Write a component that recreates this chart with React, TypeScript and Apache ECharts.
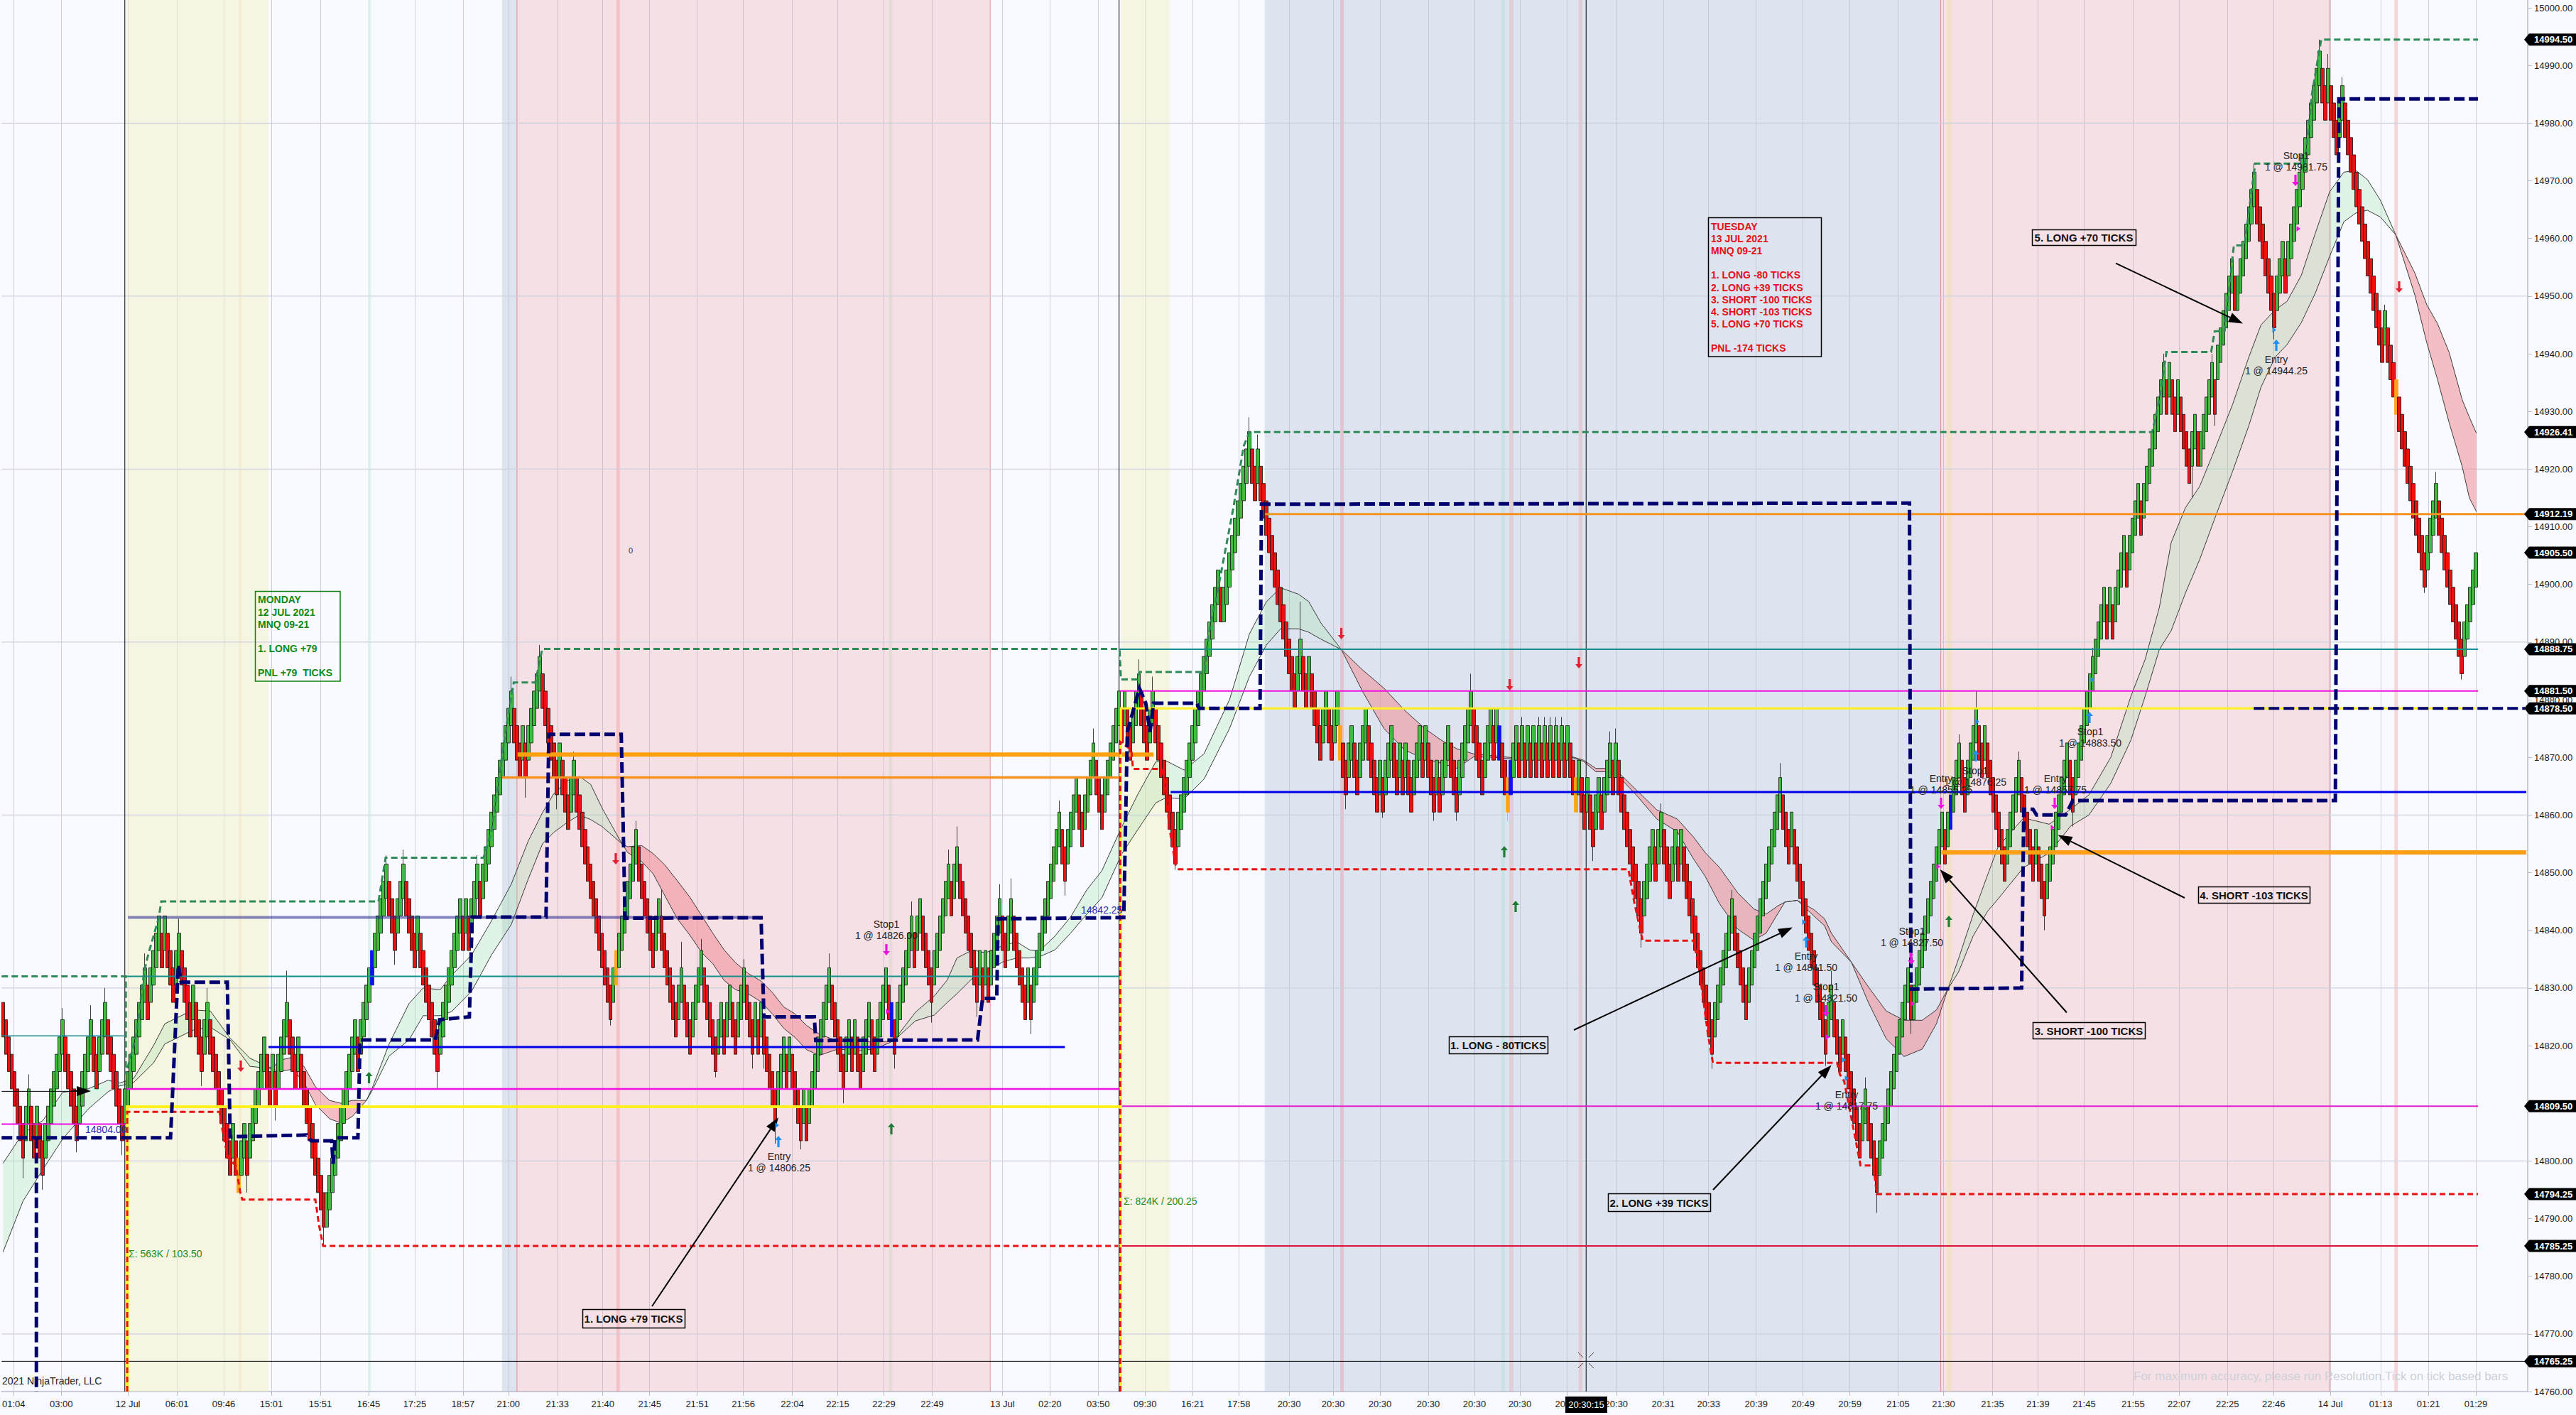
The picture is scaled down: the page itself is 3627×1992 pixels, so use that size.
import React, { useEffect, useRef } from "react";
import * as echarts from "echarts";

const W = 3627, H = 1992;
const FONT = '"Liberation Sans", Arial, sans-serif';
const BASE = 14000;

// Closing price of every brick (minus BASE).
const closes = [
821.5,818.5,815.5,812.5,809.5,806.5,803.5,800.5,809.5,812.5,
803.5,800.5,809.5,800.5,797.5,806.5,809.5,812.5,815.5,818.5,
821.5,824.5,815.5,812.5,809.5,806.5,803.5,812.5,815.5,818.5,
821.5,824.5,815.5,812.5,821.5,824.5,827.5,818.5,815.5,812.5,
809.5,806.5,803.5,812.5,815.5,818.5,821.5,824.5,827.5,830.5,
833.5,824.5,833.5,836.5,839.5,842.5,833.5,842.5,833.5,830.5,
827.5,836.5,839.5,830.5,827.5,824.5,821.5,830.5,821.5,818.5,
815.5,824.5,827.5,818.5,815.5,812.5,809.5,806.5,803.5,800.5,
797.5,806.5,797.5,794.5,803.5,806.5,797.5,806.5,809.5,812.5,
815.5,818.5,821.5,812.5,809.5,818.5,809.5,818.5,821.5,824.5,
827.5,818.5,815.5,812.5,821.5,812.5,809.5,806.5,803.5,800.5,
797.5,794.5,791.5,788.5,794.5,797.5,800.5,803.5,806.5,809.5,
812.5,815.5,818.5,821.5,824.5,815.5,824.5,827.5,830.5,833.5,
836.5,839.5,842.5,845.5,848.5,851.5,842.5,839.5,836.5,845.5,
848.5,851.5,842.5,839.5,836.5,833.5,842.5,833.5,830.5,827.5,
824.5,821.5,818.5,815.5,824.5,827.5,830.5,833.5,836.5,839.5,
842.5,845.5,836.5,845.5,836.5,845.5,848.5,851.5,842.5,851.5,
854.5,857.5,860.5,863.5,866.5,869.5,872.5,875.5,878.5,881.5,
872.5,869.5,866.5,875.5,866.5,875.5,878.5,881.5,884.5,887.5,
878.5,875.5,872.5,869.5,866.5,863.5,872.5,863.5,860.5,857.5,
866.5,869.5,860.5,857.5,854.5,851.5,848.5,845.5,842.5,839.5,
836.5,833.5,830.5,827.5,824.5,833.5,836.5,839.5,842.5,845.5,
848.5,851.5,854.5,857.5,848.5,845.5,842.5,839.5,836.5,833.5,
842.5,845.5,836.5,833.5,830.5,827.5,824.5,821.5,830.5,833.5,
824.5,821.5,818.5,827.5,830.5,833.5,836.5,827.5,824.5,821.5,
818.5,815.5,824.5,827.5,818.5,827.5,830.5,821.5,818.5,827.5,
830.5,833.5,824.5,821.5,818.5,827.5,818.5,827.5,818.5,815.5,
812.5,809.5,806.5,815.5,818.5,821.5,812.5,821.5,812.5,809.5,
806.5,803.5,812.5,803.5,812.5,815.5,818.5,821.5,824.5,827.5,
830.5,833.5,824.5,821.5,818.5,815.5,812.5,821.5,824.5,815.5,
824.5,815.5,812.5,821.5,824.5,827.5,818.5,815.5,824.5,827.5,
830.5,833.5,824.5,821.5,818.5,827.5,830.5,833.5,836.5,839.5,
842.5,833.5,842.5,845.5,836.5,833.5,830.5,827.5,836.5,839.5,
842.5,845.5,848.5,851.5,842.5,851.5,854.5,845.5,842.5,839.5,
836.5,833.5,830.5,827.5,836.5,827.5,836.5,827.5,836.5,839.5,
842.5,845.5,836.5,833.5,842.5,845.5,836.5,833.5,830.5,827.5,
824.5,833.5,824.5,833.5,836.5,839.5,842.5,845.5,848.5,851.5,
854.5,857.5,860.5,851.5,848.5,857.5,860.5,863.5,866.5,857.5,
854.5,863.5,866.5,869.5,872.5,863.5,860.5,857.5,866.5,869.5,
872.5,875.5,878.5,881.5,872.5,881.5,872.5,869.5,878.5,881.5,
884.5,875.5,872.5,869.5,878.5,881.5,872.5,869.5,866.5,863.5,
860.5,857.5,854.5,851.5,860.5,863.5,866.5,869.5,872.5,875.5,
878.5,881.5,884.5,887.5,890.5,893.5,896.5,899.5,902.5,893.5,
899.5,902.5,905.5,908.5,911.5,914.5,917.5,920.5,923.5,926.5,
917.5,914.5,923.5,914.5,911.5,908.5,905.5,902.5,899.5,896.5,
893.5,890.5,887.5,884.5,881.5,878.5,887.5,890.5,881.5,878.5,
887.5,878.5,875.5,872.5,869.5,878.5,881.5,872.5,869.5,878.5,
881.5,869.5,866.5,863.5,872.5,875.5,866.5,863.5,872.5,875.5,
878.5,869.5,866.5,863.5,860.5,869.5,860.5,869.5,872.5,875.5,
866.5,863.5,872.5,863.5,872.5,863.5,860.5,869.5,872.5,875.5,
866.5,875.5,866.5,863.5,860.5,869.5,860.5,869.5,872.5,875.5,
866.5,863.5,860.5,869.5,872.5,875.5,878.5,881.5,872.5,869.5,
866.5,863.5,872.5,875.5,878.5,869.5,878.5,869.5,866.5,863.5,
860.5,869.5,872.5,875.5,866.5,875.5,866.5,875.5,866.5,875.5,
866.5,875.5,866.5,875.5,866.5,875.5,866.5,875.5,866.5,875.5,
866.5,875.5,866.5,863.5,860.5,869.5,860.5,857.5,866.5,857.5,
854.5,863.5,866.5,857.5,866.5,869.5,872.5,863.5,872.5,863.5,
860.5,857.5,854.5,851.5,848.5,845.5,842.5,839.5,848.5,851.5,
854.5,857.5,848.5,857.5,860.5,851.5,848.5,845.5,854.5,857.5,
848.5,857.5,848.5,845.5,842.5,839.5,836.5,833.5,830.5,827.5,
824.5,821.5,818.5,827.5,830.5,833.5,836.5,839.5,842.5,845.5,
836.5,833.5,830.5,827.5,824.5,833.5,836.5,839.5,842.5,845.5,
848.5,851.5,854.5,857.5,860.5,863.5,866.5,857.5,854.5,851.5,
860.5,851.5,848.5,845.5,842.5,839.5,836.5,833.5,830.5,827.5,
824.5,821.5,818.5,827.5,830.5,821.5,818.5,815.5,824.5,815.5,
812.5,809.5,806.5,803.5,800.5,809.5,812.5,803.5,800.5,797.5,
794.5,803.5,806.5,809.5,812.5,815.5,818.5,821.5,824.5,827.5,
830.5,833.5,824.5,830.5,833.5,836.5,839.5,842.5,845.5,848.5,
851.5,854.5,857.5,860.5,851.5,860.5,863.5,866.5,869.5,872.5,
863.5,860.5,869.5,872.5,875.5,878.5,869.5,866.5,875.5,866.5,
863.5,860.5,857.5,854.5,851.5,848.5,857.5,860.5,863.5,866.5,
869.5,860.5,857.5,854.5,851.5,848.5,857.5,848.5,845.5,842.5,
851.5,854.5,857.5,860.5,863.5,866.5,869.5,872.5,863.5,860.5,
869.5,872.5,875.5,878.5,881.5,884.5,887.5,890.5,893.5,896.5,
899.5,890.5,899.5,890.5,899.5,902.5,905.5,908.5,899.5,908.5,
911.5,914.5,917.5,908.5,917.5,920.5,923.5,926.5,929.5,932.5,
935.5,938.5,929.5,938.5,929.5,926.5,935.5,926.5,923.5,920.5,
917.5,926.5,929.5,920.5,926.5,929.5,932.5,935.5,938.5,929.5,
941.5,944.5,947.5,950.5,953.5,956.5,947.5,953.5,956.5,959.5,
962.5,965.5,968.5,971.5,962.5,959.5,956.5,953.5,950.5,947.5,
944.5,953.5,956.5,959.5,950.5,959.5,962.5,965.5,968.5,971.5,
974.5,977.5,980.5,983.5,986.5,989.5,992.5,983.5,980.5,989.5,
980.5,977.5,974.5,983.5,986.5,977.5,974.5,971.5,968.5,965.5,
962.5,959.5,956.5,953.5,950.5,947.5,944.5,941.5,938.5,947.5,
938.5,935.5,932.5,929.5,926.5,923.5,920.5,917.5,914.5,911.5,
908.5,905.5,902.5,899.5,908.5,911.5,914.5,917.5,908.5,905.5,
902.5,899.5,896.5,893.5,890.5,887.5,884.5,893.5,896.5,899.5,
902.5,905.5,
];

const bodySize = 6;
const orangeBars = [83, 216, 471, 530, 554, 843];
const blueBars = [130, 313, 527, 531, 686];

// [bar, price] wick extremes
const wickHighs = [[9,815],[21,826.5],[31,827],[36,830],[50,836],[62,842],[72,830],[100,833],[135,853],[141,854],[167,853],[179,884],[189,889.5],[201,871],[223,859],[232,847],[239,838],[246,838.5],[261,835],[291,836],[320,845],[333,854],[336,858],[351,848],[355,849],[372,862.5],[384,875],[393,884],[400,887],[405,884],[439,929],[442,926],[457,897],[517,884.5],[535,877],[541,877],[543,877],[545,877],[547,877],[549,877],[566,874.5],[568,875],[584,862],[609,847],[626,869],[644,833],[656,814.5],[689,874],[695,881.5],[710,871],[736,889],[761,940],[778,940],[793,973],[816,994.5],[819,992],[824,988],[839,948.5],[857,919.5]];
const wickLows = [[7,797],[14,795],[26,801.5],[42,801],[70,813],[86,794.5],[96,807],[113,785.25],[138,834],[153,812.5],[184,863],[195,861],[214,823.5],[251,814.5],[264,816],[268,816],[272,803],[281,802],[296,810],[314,816],[327,824],[343,825],[362,822],[374,846],[413,850.5],[473,861],[486,859.5],[504,859],[512,859],[530,859],[560,852],[577,837],[602,816],[642,816.5],[660,791],[672,822],[719,840],[729,858],[771,915],[779,927.5],[800,942.5],[853,898.5],[866,883.5]];

// Moving averages (minus BASE), read at these bars
const maBars = [0,7,14,21,30,37,41,46,53,57,67,73,80,87,95,97,102,106,110,115,119,123,128,130,136,143,148,154,158,165,172,179,185,190,194,199,203,207,211,218,220,225,229,233,237.5,242,246,250,254,258,262.5,267,271,275,279,283,287.5,294,301,307,313.6,321.4,328,332.6,336,341.5,346,352,357,361.6,365,370.5,376,381.7,387,394,399.6,406,409.6,416,423,432,439,445,450,456.3,459.9,464.2,471.4,479,486.4,493.6,500.8,506.5,512,518,525,532.3,541,549.5,556.7,561,567.5,575.4,582.5,589.7,595.4,599.5,604.6,611,616.7,621,625,627.6,632,637.8,641.6,644,651,657,663.3,669.6,676,681,685,688.8,693.9,699,702.8,705.4,711.7,720.7,728.3,734.7,742.4,749.5,754.5,759.5,763.7,768.7,773.7,778.7,785.3,791,795.3,800.3,804.5,809.5,814.5,819.5,824.5,828.7,832.8,837.4,842.8,849.5,853.7,857.5,861.6,866.2,868.7,871.2];
const maFast = [799.6,804.8,807,811.9,812.5,814,813.5,814.3,820,823.8,826.2,826,821.3,817.8,816,815.5,815.9,813.6,809.8,807.3,806.6,807.7,810.5,812.6,820.3,827.3,830,829.7,832.2,835.7,841.6,848,855.5,860.4,863.7,866,866.7,865.3,861.2,855,853.5,851.9,849.8,846.1,842,839.1,836.2,834.2,831.3,829.7,829,827.6,825.5,823,821.4,819.3,818.3,819.4,819.1,819.4,820.8,825.8,828.6,831.4,835.2,836.6,836.1,837.3,838,836.6,836.4,839,842.3,847,850.3,857.9,863.5,869.2,869.4,867.8,870.6,880,891.4,897,899.4,898.3,897,893.3,888.7,881.3,875,871.3,869.7,869,868.1,870.1,870,869.7,870.2,870.5,869.3,867.5,867.5,863.4,859.3,857.1,852.4,849.4,844.6,840.2,838.3,839.5,842.8,844.9,845.2,842.5,840.8,838,834.5,827.5,821.2,818.1,819.4,823.8,829.8,835.1,842.7,849.6,854.6,856,859.5,858.4,861,863.5,870,880.6,887,896,907.3,913.3,917,923,931.2,939.4,945,947.6,949.1,953.6,961,968.1,971.5,971.8,970.2,966.6,960.6,950.2,941.9,935.5,928,920.4,915,912.6];
const maSlow = [784.2,793,798.5,803.8,809,812,813,813.6,817,820.3,822.7,823.2,821,816.4,816,817.4,818,816.4,812.9,810.5,810,810.5,810.5,812.2,818.2,821,825.2,825.2,825.9,829.4,835.7,841,848.9,855,857,858.8,860,859.2,858,855,854.5,854.7,853.3,851.4,848.6,845.7,842.6,839.5,836.6,834.4,832.5,831.2,829.2,826.7,825.5,823.5,822,820.8,820.8,820.6,820.8,824.3,825.3,827.5,829,831.7,832.6,834.5,835.2,835.2,835.4,836.6,839.5,842.8,845.6,853.2,857.4,862.1,863,862.8,866.2,875,884,889.5,892.3,892.3,891.7,890.5,888.7,885.1,882,878.2,875,873,871.5,870.6,870.3,869.9,870.3,870.6,869.5,868.1,868.1,864.3,860.9,859.3,856.2,853.5,850.9,846.5,843.7,842.8,844.2,844.9,845.2,843.6,842,839.5,834.5,830.2,826,824.4,824.4,826.2,829.8,832.8,839,843.3,845.5,847.1,850.9,853.4,858.1,860,865.5,873,880.6,888.7,892,898.5,904.3,911,919.6,927.5,934.2,939.4,941.6,945.4,950.6,956.9,962.9,964.4,964.9,963.7,960.6,954,948.5,945.2,940.2,932,929,926.2];

// Time-axis ticks: bar position and label
const tickBars = [3.75,20.5,44,61.25,77.75,94.5,111.75,128.75,145,162,178,195.25,211.25,227.75,244.5,260.75,278,294,310.25,327.25,352,368.75,385.75,402.25,419,435.25,453,468.5,485,502,518.25,534.25,550.75,568.25,584.75,600.75,617.5,634,650.5,667.5,683.5,700.75,716.75,733,750.25,766.5,783.5,799.75,819.75,837.5,854.25,871];
const tickLabels = ["01:04","03:00","12 Jul","06:01","09:46","15:01","15:51","16:45","17:25","18:57","21:00","21:33","21:40","21:45","21:51","21:56","22:04","22:15","22:29","22:49","13 Jul","02:20","03:50","09:30","16:21","17:58","20:30","20:30","20:30","20:30","20:30","20:30","20:30","20:30","20:31","20:33","20:39","20:49","20:59","21:05","21:30","21:35","21:39","21:45","21:55","22:07","22:25","22:46","14 Jul","01:13","01:21","01:29"];

const priceTags = [14994.5,14926.41,14912.19,14905.5,14888.75,14881.5,14878.5,14809.5,14794.25,14785.25,14765.25];
// Horizontal gridlines are only drawn every 30 points
const gridPrices = [14980,14950,14920,14890,14860,14830,14800,14770];

const barMin = -0.5, barMax = 889.25, yMin = 14760, yMax = 15001.36;

// Session shading: [from bar, to bar, colour]
const PINK = "rgba(235,120,130,0.2)", BLUE = "rgba(178,192,214,0.38)", YEL = "rgba(245,240,190,0.45)";
const bands = [
  [43.4,93.5,YEL],[175.75,181,BLUE],[181,347.75,PINK],[393.9,411,YEL],[444.4,682.5,BLUE],[682.5,819.5,PINK],
  [83,84,"rgba(245,200,140,0.18)"],[128.75,129.75,"rgba(150,225,170,0.18)"],[216,217.25,"rgba(240,120,120,0.28)"],
  [312,313.25,"rgba(150,200,150,0.16)"],[471,472.25,"rgba(230,120,130,0.28)"],[527.75,529,"rgba(130,220,190,0.22)"],
  [530.5,532,"rgba(235,130,130,0.22)"],[555,556.25,"rgba(235,130,130,0.25)"],[684.5,686.5,"rgba(240,225,140,0.3)"],[842.25,843.5,"rgba(240,120,120,0.28)"],
  [180.9,181.15,"rgba(210,80,80,0.6)"],[347.6,347.85,"rgba(210,80,80,0.5)"],[682.4,682.65,"rgba(210,80,80,0.6)"],[819.4,819.65,"rgba(210,80,80,0.6)"],
];

// Levels and order paths: [bar, price]
const navyPath = [[-0.5,14804],[59,14804],[61.75,14834],[62.75,14831],[79,14831],[80,14804.2],[107,14804.5],[108.5,14803.5],[115.75,14803.5],[116.25,14799.5],[117,14804],[125,14804],[125.75,14821],[152.25,14821],[153.75,14824.5],[164.25,14825],[165.25,14842.3],[191.25,14842.3],[192.25,14874],[217.75,14874],[219.1,14842.1],[267,14842.2],[268,14825],[285.75,14825],[286.25,14820.9],[343.25,14821],[345,14828.2],[350,14828.2],[350.5,14842],[393,14842.2],[394.75,14842.2],[396,14874.4],[400.25,14882],[402.5,14879.4],[404,14874.4],[405.25,14879.4],[420.5,14879.4],[421.25,14878.5],[442.75,14878.5],[443.25,14913.9],[671.5,14914.1],[672,14829.8],[711,14830],[711.75,14861],[715,14861],[716.25,14860],[726.5,14860],[729,14862.5],[821.5,14862.5],[822.75,14984.2],[871.75,14984.2]];
const navySpur = [[11.75,14804],[11.75,14760]];
const navyClose = [[792.75,14878.5],[888.25,14878.5]];
const greenDash = [[-0.5,14832],[43.25,14832],[43.25,14815],[47,14822],[49.75,14833],[51.25,14836],[54.75,14842],[55.75,14845],[132.25,14845],[134.75,14852.6],[169.25,14852.6],[172,14857],[174.5,14866],[177.5,14876],[179.9,14883],[187.5,14883],[189.9,14888.8],[393.25,14888.8],[393.75,14883.5],[399.5,14883.5],[400.25,14884.8],[423.25,14884.8],[424.5,14891],[428.25,14900],[433.25,14913],[437,14924],[439,14926.41],[757,14926.41],[759.5,14932],[762,14940.3],[777.75,14940.3],[779,14943.9],[782.5,14944],[785.75,14958.8],[789.5,14958.8],[793.25,14973],[810.75,14973],[813.25,14985],[816.5,14994.5],[871.75,14994.5]];
const redDashA = [[43.75,14760],[43.75,14808.5],[76.25,14808.5],[77.75,14804],[79.25,14800.5],[82,14799.2],[83.5,14794.7],[84.25,14793.3],[110,14793.3],[111.25,14789],[112.75,14785.25],[392.75,14785.25]];
const redDashB = [[393.5,14760],[393.5,14872.7],[397.4,14871.3],[398,14868],[408,14868],[409.5,14865],[410.75,14858],[413,14851.3],[414.1,14850.6],[572.5,14850.6],[574.5,14845],[577.5,14838.2],[595.5,14838.2],[597.5,14833],[600.5,14822],[602.25,14817],[646,14817],[647,14815],[648.5,14813.8],[652,14805],[654.25,14799.2],[658.75,14799.2],[660,14794.25],[871.75,14794.25]];
const yellowA = [[43.75,14760],[43.75,14809.4],[393.25,14809.4]];
const yellowB = [[393.75,14760],[393.75,14878.5],[870.75,14878.5]];
// [from bar, to bar, price, colour, width]
const levels = [
  [-0.5,43.25,14821.7,"#148F8F",1.5],[43.5,393.5,14832,"#148F8F",2],[393.25,871.75,14888.75,"#148F8F",2],
  [-0.5,43.25,14806.4,"#F010E0",2],[43.5,393.5,14812.5,"#F010E0",2.5],[393.25,871.75,14881.5,"#F010E0",2],[394,871.75,14809.5,"#E020D0",2],
  [93.5,374,14819.75,"#0000E6",3],[411.25,888.75,14864,"#0000E6",3],
  [181.25,405.25,14870.5,"#FFA010",6],[175.75,393.25,14866.5,"#F59222",3.5],[444.5,889.25,14912.19,"#F59222",3],[682.75,888.75,14853.5,"#FFA010",6],
  [44,266.25,14842.25,"rgba(40,40,140,0.55)",4],[393.25,871.75,14785.25,"#DC143C",2],
  [-0.5,30.5,14812.07,"#000000",1],[barMin,barMax,14765.25,"#000000",1],
];
// Black vertical separators and crosshair: bars
const verticals = [42.9, 393.1, 557.6];

const mondayLines: [string, number][] = [["MONDAY",844],["12 JUL 2021",862],["MNQ 09-21",879],["1. LONG +79",913],["PNL +79  TICKS",947]];
const tuesdayLines: [string, number][] = [["TUESDAY",319],["13 JUL 2021",336],["MNQ 09-21",353],["1. LONG -80 TICKS",387],["2. LONG +39 TICKS",404.5],["3. SHORT -100 TICKS",421.5],["4. SHORT -103 TICKS",438.5],["5. LONG +70 TICKS",456],["PNL -174 TICKS",490]];
const callouts: [string, number, number, number, number][] = [
  ["1. LONG +79 TICKS",820,1843,964,1869],["1. LONG - 80TICKS",2040,1459,2179,1483],["2. LONG +39 TICKS",2264,1680,2408,1705],
  ["3. SHORT -100 TICKS",2862,1439,3020,1462],["4. SHORT -103 TICKS",3095,1248,3252,1271],["5. LONG +70 TICKS",2861,323,3007,345],
];
const arrows = [[918,1839,1096,1573],[2216,1450,2524,1305.6],[2412,1675,2578.6,1499.5],[2910,1425.5,2731.6,1224],[3076,1264,2897.5,1175.5],[2979,370.6,3158,455.4]];
const fills: [string, string, number, number][] = [
  ["Entry","1 @ 14806.25",1097,1628],["Stop1","1 @ 14826.00",1248,1301],["Entry","1 @ 14841.50",2543,1346],["Stop1","1 @ 14821.50",2571,1389],
  ["Entry","1 @ 14817.75",2600,1541],["Stop1","1 @ 14827.50",2692,1311],["Entry","1 @ 14855.25",2733,1096],["Stop1","1 @ 14876.25",2781,1085],
  ["Entry","1 @ 14857.75",2894,1096],["Stop1","1 @ 14883.50",2943,1030],["Entry","1 @ 14944.25",3205,506],["Stop1","1 @ 14981.75",3233,219],
];
const upMarks: [number, number, string][] = [[519.5,1517,"#1E7D32"],[1255,1589,"#1E7D32"],[2118,1199,"#1E7D32"],[2134,1276,"#1E7D32"],[2744,1297,"#1E7D32"],[1096,1607,"#2090F0"],[2543,1326,"#2090F0"],[2782,1064,"#2090F0"],[2942,1010,"#2090F0"],[3205,486,"#2090F0"]];
const downMarks: [number, number, string][] = [[339,1501,"#E02030"],[867,1209,"#E02030"],[1888.6,892,"#E02030"],[2223,933,"#E02030"],[2125.7,964,"#E02030"],[3378,404,"#E02030"],[1248,1337,"#F010E0"],[2571,1423,"#F010E0"],[2691,1350,"#F010E0"],[2733,1131,"#F010E0"],[2893,1131,"#F010E0"],[3232,254,"#F010E0"]];
const dots: [number, number, string][] = [[2540,1298,"#2090F0"],[2596,1492,"#2090F0"],[2600,1518,"#2090F0"],[2784,1016,"#2090F0"],[2946,957,"#2090F0"],[1094,1584,"#2090F0"],[3202,464.5,"#2090F0"],[2729,1220,"#F010E0"],[2890,1165,"#F010E0"],[2693,1413,"#F010E0"],[2573,1460,"#F010E0"],[2691,1344,"#F010E0"],[1250,1424,"#F010E0"],[3236,322,"#F010E0"]];

function buildCandles() {
  const hi = new Map(wickHighs.map(([b, v]) => [b, BASE + v]));
  const lo = new Map(wickLows.map(([b, v]) => [b, BASE + v]));
  return closes.map((c, i) => {
    const close = BASE + c;
    const prev = i === 0 ? close + 3 : BASE + closes[i - 1];
    const up = close > prev;
    const open = up ? close - bodySize : close + bodySize;
    const top = Math.max(open, close), bottom = Math.min(open, close);
    const low = Math.min(bottom, lo.has(i) ? (lo.get(i) as number) : bottom);
    const high = Math.max(top, hi.has(i) ? (hi.get(i) as number) : top);
    const value = [i, open, close, low, high];
    const special = orangeBars.includes(i) ? "#FFA616" : blueBars.includes(i) ? "#1010F0" : null;
    return special
      ? { value, itemStyle: { color: special, color0: special, borderColor: special, borderColor0: special } }
      : value;
  });
}

function buildFillRegions() {
  const regions: { sign: number; idx: number[] }[] = [];
  let cur: { sign: number; idx: number[] } | null = null;
  maBars.forEach((_, i) => {
    const s = Math.sign(maFast[i] - maSlow[i]);
    if (!cur) { cur = { sign: s || 1, idx: [i] }; regions.push(cur); return; }
    if (s === 0 || s === cur.sign) { cur.idx.push(i); if (s === 0) { cur = { sign: 0, idx: [i] }; regions.push(cur); } return; }
    if (cur.sign === 0) { cur.sign = s; cur.idx.push(i); return; }
    cur = { sign: s, idx: [i - 1, i] }; regions.push(cur);
  });
  return regions;
}

const lineSeries = (data: number[][], color: string, width: number, dash: any, z: number) => ({
  type: "line", data, symbol: "none", silent: true, animation: false, z,
  lineStyle: { color, width, type: dash, cap: "butt", join: "miter" },
});

function arrowEls(x1: number, y1: number, x2: number, y2: number) {
  const a = Math.atan2(y2 - y1, x2 - x1), len = 20, hw = 7;
  const bx = x2 - len * Math.cos(a), by = y2 - len * Math.sin(a);
  const nx = -Math.sin(a) * hw, ny = Math.cos(a) * hw;
  return [
    { type: "line", z: 50, shape: { x1, y1, x2: bx, y2: by }, style: { stroke: "#000", lineWidth: 2 } },
    { type: "polygon", z: 50, shape: { points: [[x2, y2], [bx + nx, by + ny], [bx - nx, by - ny]] }, style: { fill: "#000" } },
  ];
}
function markEl(x: number, y: number, dir: number, color: string) {
  const p = (dx: number, dy: number) => [x + dx, y + dir * dy];
  return { type: "polygon", z: 50, shape: { points: [p(0, -8), p(5, -2), p(1.6, -2), p(1.6, 8), p(-1.6, 8), p(-1.6, -2), p(-5, -2)] }, style: { fill: color } };
}
const txt = (text: string, x: number, y: number, font: string, fill: string, align = "left") => ({
  type: "text", z: 60, style: { text, x, y, font, fill, textAlign: align, textVerticalAlign: "middle" },
});

function buildGraphic() {
  const els: any[] = [];
  els.push({ type: "rect", z: 55, shape: { x: 359.5, y: 832.5, width: 119.5, height: 126.5 }, style: { fill: "transparent", stroke: "#108010", lineWidth: 1.5 } });
  mondayLines.forEach(([t, y]) => els.push(txt(t, 363, y, `bold 14px ${FONT}`, "#108A18")));
  els.push({ type: "rect", z: 55, shape: { x: 2405.5, y: 306.5, width: 159, height: 195.5 }, style: { fill: "transparent", stroke: "#000", lineWidth: 1.5 } });
  tuesdayLines.forEach(([t, y]) => els.push(txt(t, 2409, y, `bold 14px ${FONT}`, "#E5101A")));
  callouts.forEach(([t, x1, y1, x2, y2]) => {
    els.push({ type: "rect", z: 55, shape: { x: x1 + 0.5, y: y1 + 0.5, width: x2 - x1, height: y2 - y1 }, style: { fill: "transparent", stroke: "#000", lineWidth: 1.5 } });
    els.push(txt(t, (x1 + x2) / 2, (y1 + y2) / 2 + 0.5, `bold 15px ${FONT}`, "#111", "center"));
  });
  arrows.forEach((a) => els.push(...arrowEls(a[0], a[1], a[2], a[3])));
  els.push(...arrowEls(100, 1536, 128, 1536));
  fills.forEach(([a, b, x, y]) => {
    els.push(txt(a, x, y, `14px ${FONT}`, "#222", "center"));
    els.push(txt(b, x, y + 16, `14px ${FONT}`, "#222", "center"));
  });
  upMarks.forEach(([x, y, c]) => els.push(markEl(x, y, 1, c)));
  downMarks.forEach(([x, y, c]) => els.push(markEl(x, y, -1, c)));
  dots.forEach(([x, y, c]) => els.push({ type: "polygon", z: 50, shape: { points: [[x - 2.5, y - 4], [x + 3, y], [x - 2.5, y + 4]] }, style: { fill: c } }));
  els.push(txt("14842.25", 1522, 1281, `14px ${FONT}`, "#2A2AAE"));
  els.push(txt("14804.00", 120, 1590, `14px ${FONT}`, "#2A2AAE"));
  els.push(txt("\u03A3: 563K / 103.50", 181, 1765, `14px ${FONT}`, "#1E8B1E"));
  els.push(txt("\u03A3: 824K / 200.25", 1582, 1691, `14px ${FONT}`, "#1E8B1E"));
  els.push(txt("2021 NinjaTrader, LLC", 3, 1944, `14px ${FONT}`, "#222"));
  els.push(txt("0", 888, 775, `11px ${FONT}`, "#333", "center"));
  els.push(txt("For maximum accuracy, please run Resolution.Tick on tick based bars", 3004, 1937, `17px ${FONT}`, "#CDD0D8"));
  els.push({ type: "rect", z: 70, shape: { x: 2204, y: 1966, width: 59, height: 23 }, style: { fill: "#000" } });
  els.push({ ...txt("20:30:15", 2233.5, 1977.5, `13px ${FONT}`, "#fff", "center"), z: 71 });
  [[2222, 1904, 2229, 1911], [2244, 1904, 2237, 1911], [2222, 1926, 2229, 1919], [2244, 1926, 2237, 1919]].forEach((s) =>
    els.push({ type: "line", z: 50, shape: { x1: s[0], y1: s[1], x2: s[2], y2: s[3] }, style: { stroke: "#444", lineWidth: 1 } }));
  return els;
}

export default function App() {
  const ref = useRef<HTMLDivElement>(null);
  useEffect(() => {
    const chart = echarts.init(ref.current as HTMLDivElement, undefined, { renderer: "svg" });
    const regions = buildFillRegions();
    const D = [8, 5], NAVY = [15, 6];
    chart.setOption({
      animation: false,
      backgroundColor: "#F8FAFF",
      grid: { left: 0, right: W - 3559, top: 0, bottom: H - 1959, containLabel: false },
      xAxis: {
        type: "value", min: barMin, max: barMax, scale: true,
        axisLine: { onZero: false, lineStyle: { color: "#C8CCD8", width: 2 } },
        axisTick: { show: true, length: 6, customValues: tickBars, lineStyle: { color: "#B8BCC8" } },
        splitLine: { show: true, customValues: tickBars, lineStyle: { color: "#CDD1DD", width: 1 } },
        axisLabel: {
          customValues: tickBars, margin: 11, color: "#1a1a1a", fontFamily: FONT, fontSize: 13,
          formatter: (v: number) => tickLabels[tickBars.indexOf(v)] ?? "",
        },
      },
      yAxis: {
        type: "value", position: "right", min: yMin, max: yMax, interval: 10, scale: true,
        axisLine: { show: true, onZero: false, lineStyle: { color: "#C8CCD8", width: 2 } },
        axisTick: { show: true, length: 6, lineStyle: { color: "#B8BCC8" } },
        splitLine: { show: false },
        axisLabel: {
          margin: 9, color: "#1a1a1a", fontFamily: FONT, fontSize: 13, showMaxLabel: false,
          formatter: (v: number) => (Math.abs(v % 10) < 1e-6 ? v.toFixed(2) : ""),
        },
      },
      graphic: { elements: buildGraphic() },
      series: [
        {
          type: "custom", silent: true, z: 1, clip: false,
          data: bands.map((b) => [b[0], yMax]),
          renderItem: (p: any, api: any) => {
            const b: any = bands[p.dataIndex];
            const a = api.coord([b[0], yMax]), c = api.coord([b[1], yMin]);
            return { type: "rect", shape: { x: a[0], y: a[1], width: c[0] - a[0], height: c[1] - a[1] }, style: { fill: b[2] } };
          },
        },
        ...gridPrices.map((p) => lineSeries([[barMin, p], [barMax, p]], "#CDD1DD", 1.2, "solid", 1)),
        {
          type: "custom", silent: true, z: 2, clip: false,
          data: [[0, 14800]],
          renderItem: (_p: any, api: any) => ({
            type: "group",
            children: regions.filter((r) => r.idx.length > 1).map((r) => ({
              type: "polygon",
              shape: {
                points: [
                  ...r.idx.map((i) => api.coord([maBars[i], BASE + maFast[i]])),
                  ...[...r.idx].reverse().map((i) => api.coord([maBars[i], BASE + maSlow[i]])),
                ],
              },
              style: { fill: r.sign >= 0 ? "rgba(150,225,160,0.25)" : "rgba(240,140,150,0.55)" },
            })),
          }),
        },
        lineSeries(maBars.map((b, i) => [b, BASE + maFast[i]]), "#3C3C3C", 1, "solid", 2),
        lineSeries(maBars.map((b, i) => [b, BASE + maSlow[i]]), "#3C3C3C", 1, "solid", 2),
        ...verticals.map((b) => lineSeries([[b, yMin], [b, yMax]], "#000", 1, "solid", 3)),
        {
          type: "candlestick", z: 4, barWidth: 5, silent: true, animation: false, layout: "horizontal", large: false,
          data: buildCandles(),
          itemStyle: { color: "#40BA40", color0: "#E81212", borderColor: "#111", borderColor0: "#111", borderWidth: 0.8 },
        },
        ...levels.map((l: any) => lineSeries([[l[0], l[2]], [l[1], l[2]]], l[3], l[4], "solid", 6)),
        lineSeries(yellowA, "#FFF020", 4, "solid", 6),
        lineSeries(yellowB, "#FFF020", 3, "solid", 6),
        lineSeries(redDashA, "#EA1010", 3, D, 7),
        lineSeries(redDashB, "#EA1010", 3, D, 7),
        lineSeries(greenDash, "#2E8B57", 3, [9, 5], 7),
        lineSeries(navyClose, "#00006E", 4, NAVY, 7),
        lineSeries(navySpur, "#00006E", 5, NAVY, 7),
        lineSeries(navyPath, "#00006E", 5, NAVY, 8),
        {
          type: "custom", silent: true, z: 30, clip: false,
          data: priceTags.map((p) => [barMax, p]),
          renderItem: (_p: any, api: any) => {
            const [x, y] = api.coord([api.value(0), api.value(1)]);
            return {
              type: "group",
              children: [
                { type: "polygon", shape: { points: [[x - 5, y], [x + 2, y - 8.5], [W, y - 8.5], [W, y + 8.5], [x + 2, y + 8.5]] }, style: { fill: "#000" } },
                { type: "text", style: { text: Number(api.value(1)).toFixed(2), x: x + 9, y, fill: "#fff", font: `bold 13px ${FONT}`, textAlign: "left", textVerticalAlign: "middle" } },
              ],
            };
          },
        },
      ],
    });
    return () => chart.dispose();
  }, []);
  return <div ref={ref} style={{ position: "absolute", left: 0, top: 0, width: W, height: H }} />;
}
